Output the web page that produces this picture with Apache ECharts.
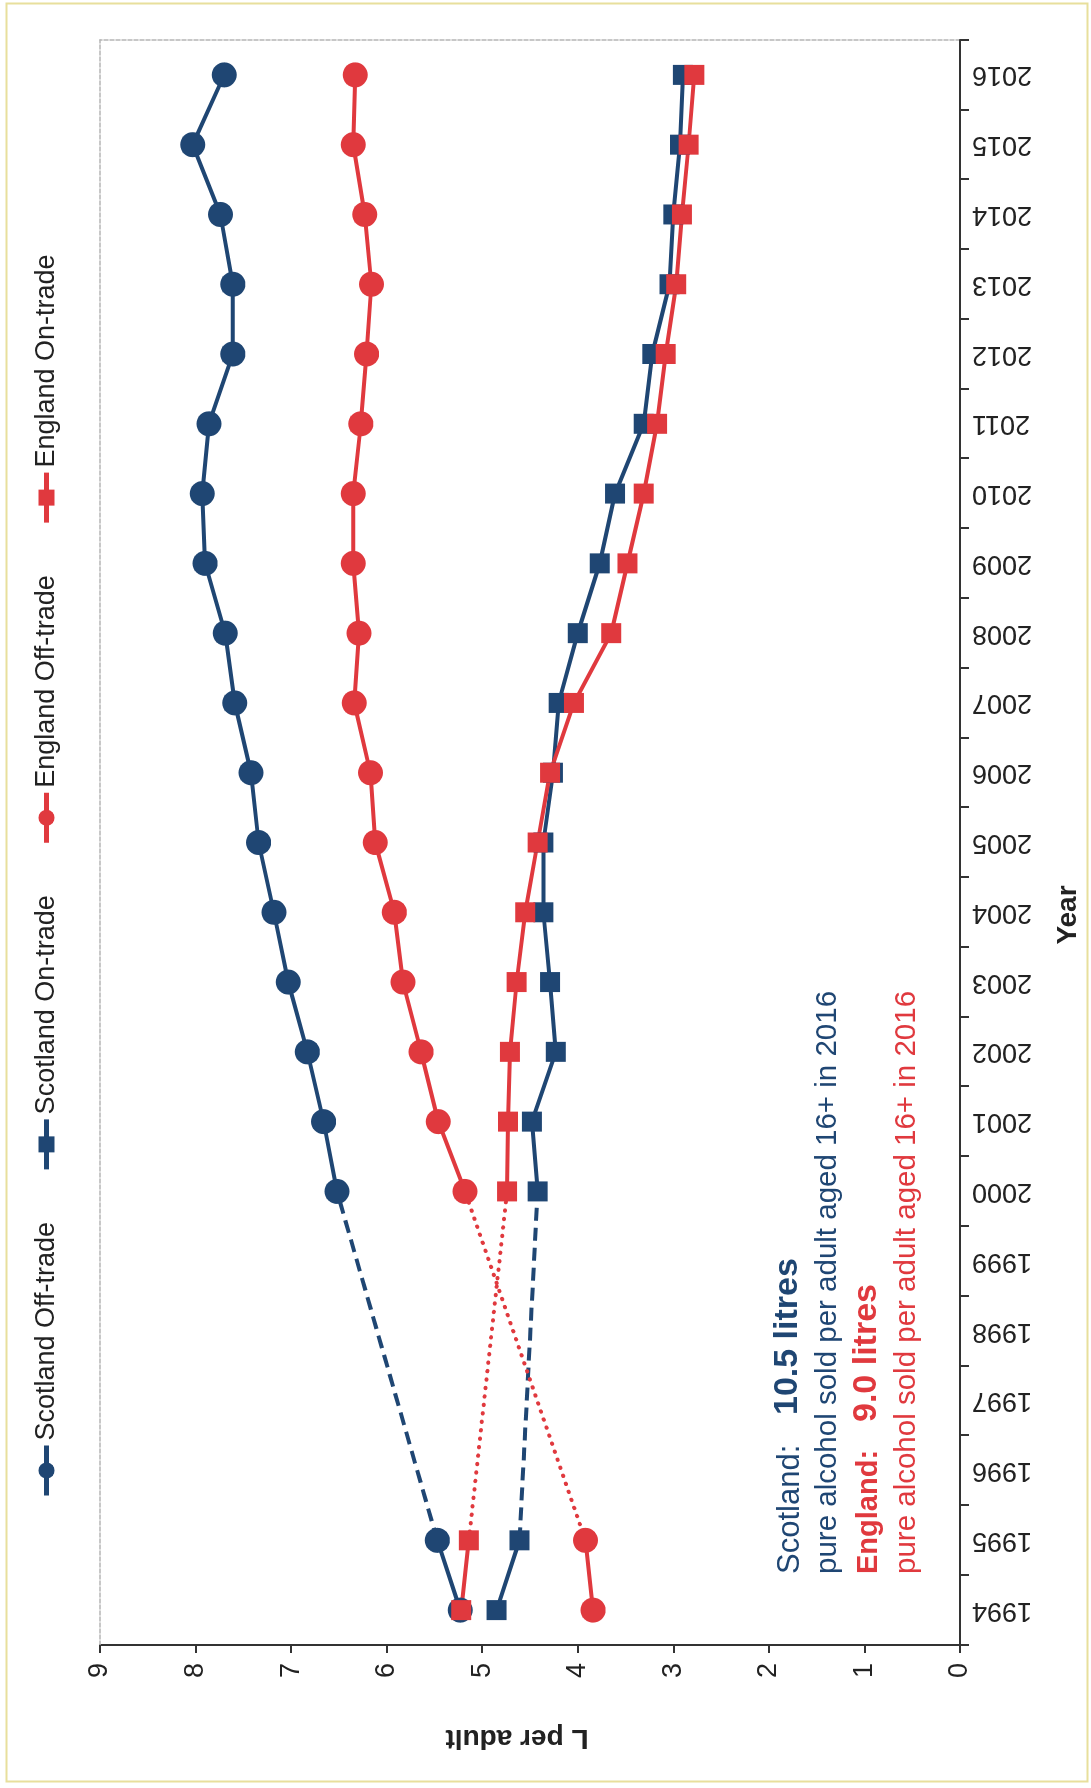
<!DOCTYPE html>
<html>
<head>
<meta charset="utf-8">
<script src="https://cdn.jsdelivr.net/npm/echarts@6/dist/echarts.min.js"></script>
<style>
html,body{margin:0;padding:0;background:#fff;overflow:hidden;width:1091px;height:1788px;}
#chart{position:absolute;left:0;top:0;width:1788px;height:1091px;transform-origin:0 0;transform:translate(0,1788px) rotate(-90deg);}
</style>
</head>
<body>
<div id="chart"></div>
<script>
const years = ['1994','1995','1996','1997','1998','1999','2000','2001','2002','2003','2004','2005','2006','2007','2008','2009','2010','2011','2012','2013','2014','2015','2016'];
const scotlandOff = [5.23,5.47,null,null,null,null,6.52,6.66,6.83,7.03,7.18,7.34,7.42,7.59,7.69,7.90,7.93,7.86,7.61,7.61,7.74,8.03,7.70];
const scotlandOn  = [4.85,4.61,null,null,null,null,4.42,4.48,4.23,4.29,4.36,4.36,4.26,4.20,4.00,3.77,3.61,3.31,3.22,3.04,3.00,2.93,2.90];
const englandOff  = [3.84,3.92,null,null,null,null,5.18,5.46,5.64,5.83,5.92,6.12,6.17,6.34,6.29,6.35,6.35,6.27,6.21,6.16,6.23,6.35,6.33];
const englandOn   = [5.22,5.14,null,null,null,null,4.74,4.73,4.71,4.64,4.55,4.42,4.29,4.04,3.65,3.48,3.31,3.17,3.08,2.97,2.91,2.84,2.78];
const valueTicks = [0,1,2,3,4,5,6,7,8,9];

const NAVY = '#1f4673';
const RED = '#e0393e';
const FONT = '"Liberation Sans", Arial, sans-serif';

function gap(arr){
  return arr.map((v,i)=> (i===1||i===6) ? v : null);
}
function mainSeries(name, data, color, symbol, size){
  return {name, type:'line', data, symbol, symbolSize:size, showSymbol:true, connectNulls:false,
    lineStyle:{color, width:4}, itemStyle:{color}, z:5, animation:false};
}
function gapSeries(name, data, color, type, width, cap){
  return {name, type:'line', data:gap(data), symbol:'none', connectNulls:true, silent:true,
    lineStyle:{color, width, type, cap}, z:3, animation:false};
}

const chart = echarts.init(document.getElementById('chart'), null, {renderer:'canvas'});
chart.setOption({
  animation:false,
  backgroundColor:'#fff',
  textStyle:{fontFamily:FONT},
  grid:{left:143, right:40, top:100, bottom:131, containLabel:false},
  legend:{
    data:['Scotland Off-trade','Scotland On-trade','England Off-trade','England On-trade'],
    left:285, top:28, itemWidth:50, itemHeight:20, itemGap:50,
    lineStyle:{width:5},
    textStyle:{fontSize:27, color:'#222', fontFamily:FONT}
  },
  xAxis:[{
    type:'category', data:years, boundaryGap:true, position:'bottom',
    axisLine:{show:true, onZero:false, lineStyle:{color:'#333', width:2}},
    axisTick:{show:true, inside:false, length:9, interval:0, lineStyle:{color:'#333', width:2}},
    axisLabel:{interval:0, rotate:90, fontSize:27, color:'#222', margin:12, fontFamily:FONT},
    splitLine:{show:false}
  },{
    type:'category', data:years, position:'top', boundaryGap:true,
    axisLine:{show:true, onZero:false, lineStyle:{color:'#b5b5b5', width:1.5, type:[4,2]}},
    axisTick:{show:false}, axisLabel:{show:false}, splitLine:{show:false}
  }],
  yAxis:[{
    type:'value', min:0, max:9, interval:1, position:'left',
    axisLine:{show:true, onZero:false, lineStyle:{color:'#333', width:2}},
    axisTick:{show:true, length:8, lineStyle:{color:'#333', width:2}},
    axisLabel:{fontSize:27, color:'#222', margin:18, fontFamily:FONT,
      formatter:v=> valueTicks.includes(v) ? String(v) : ''},
    splitLine:{show:false}
  },{
    type:'value', min:0, max:9, interval:1, position:'right',
    axisLine:{show:true, onZero:false, lineStyle:{color:'#b5b5b5', width:1.5, type:[4,2]}},
    axisTick:{show:false}, axisLabel:{show:false}, splitLine:{show:false}
  }],
  series:[
    gapSeries('gap-so', scotlandOff, NAVY, [13,7], 4, 'butt'),
    gapSeries('gap-sn', scotlandOn, NAVY, [13,7], 4, 'butt'),
    gapSeries('gap-eo', englandOff, RED, [0.5,8], 4, 'round'),
    gapSeries('gap-en', englandOn, RED, [0.5,8], 4, 'round'),
    mainSeries('Scotland Off-trade', scotlandOff, NAVY, 'circle', 25),
    mainSeries('Scotland On-trade', scotlandOn, NAVY, 'rect', 20),
    mainSeries('England Off-trade', englandOff, RED, 'circle', 25),
    mainSeries('England On-trade', englandOn, RED, 'rect', 20)
  ],
  graphic:[
    {type:'rect', left:4, top:4, shape:{width:1778, height:1081}, style:{fill:'none', stroke:'#e8df9c', lineWidth:2}, silent:true},
    {type:'text', x:873, y:1068, style:{text:'Year', font:'bold 28px '+FONT, fill:'#222', textAlign:'center', textVerticalAlign:'middle'}},
    {type:'text', x:50, y:517, rotation:Math.PI/2, style:{text:'L per adult', font:'bold 28px '+FONT, fill:'#222', textAlign:'center', textVerticalAlign:'middle'}},
    {type:'text', x:214, y:790, style:{text:'Scotland:', font:'31px '+FONT, fill:NAVY, textAlign:'left', textVerticalAlign:'middle'}},
    {type:'text', x:373, y:788, style:{text:'10.5 litres', font:'bold 34px '+FONT, fill:NAVY, textAlign:'left', textVerticalAlign:'middle'}},
    {type:'text', x:214, y:828, style:{text:'pure alcohol sold per adult aged 16+ in 2016', font:'29.5px '+FONT, fill:NAVY, textAlign:'left', textVerticalAlign:'middle'}},
    {type:'text', x:214, y:869, style:{text:'England:', font:'bold 29px '+FONT, fill:RED, textAlign:'left', textVerticalAlign:'middle'}},
    {type:'text', x:366, y:867, style:{text:'9.0 litres', font:'bold 34px '+FONT, fill:RED, textAlign:'left', textVerticalAlign:'middle'}},
    {type:'text', x:214, y:907, style:{text:'pure alcohol sold per adult aged 16+ in 2016', font:'29.5px '+FONT, fill:RED, textAlign:'left', textVerticalAlign:'middle'}}
  ]
});
</script>
</body>
</html>
